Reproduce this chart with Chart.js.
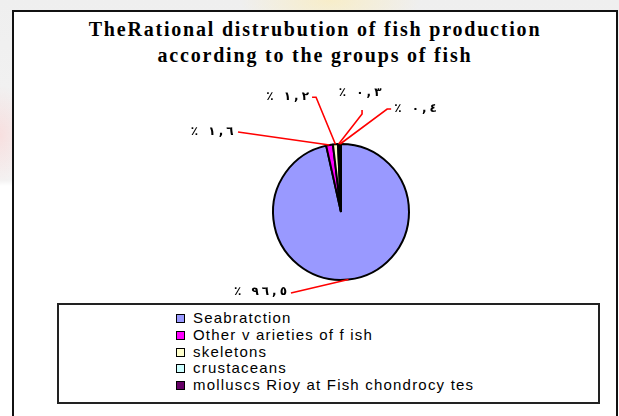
<!DOCTYPE html>
<html>
<head>
<meta charset="utf-8">
<script src="https://cdn.jsdelivr.net/npm/chart.js@4.4.1/dist/chart.umd.min.js"></script>
<style>
  html, body { margin: 0; padding: 0; }
  body {
    width: 619px; height: 416px; overflow: hidden; position: relative;
    background:
      radial-gradient(ellipse 90px 40px at 330px 0px, rgba(255,236,170,0.55), rgba(255,236,170,0) 100%),
      radial-gradient(ellipse 30px 50px at 0px 135px, rgba(255,200,200,0.45), rgba(255,200,200,0) 100%),
      linear-gradient(to bottom, #efefef 0px, #f3f3f3 180px, #ffffff 186px);
  }
  #frame {
    position: absolute; left: 12px; top: 10px; width: 606px; height: 420px;
    box-sizing: border-box; border: 2px solid #111; background: #fff;
  }
  #title {
    position: absolute; left: 12px; width: 606px; top: 16px;
    text-align: center; font-family: "Liberation Serif", "Times New Roman", serif;
    font-weight: bold; font-size: 20px; line-height: 26px; letter-spacing: 1.8px; color: #000;
  }
  #legend {
    position: absolute; left: 57px; top: 303px; width: 543px; height: 101px;
    box-sizing: border-box; border: 2px solid #222; background: #fff;
  }
  #legend .item {
    position: absolute; left: 117px; height: 16px;
    font-family: "Liberation Sans", Arial, sans-serif; font-size: 15px; line-height: 16px; color: #000;
    letter-spacing: 1.2px; white-space: pre;
  }
  #legend .box {
    position: absolute; left: 0px; top: 4px; width: 7px; height: 7px; border: 1px solid #000;
  }
  #legend .txt { position: absolute; left: 17px; top: 0px; }
  canvas { position: absolute; left: 0; top: 0; }
</style>
</head>
<body>
<div id="frame"></div>
<div id="title">TheRational distrubution of fish production<br>according to the groups of fish</div>
<div id="legend"></div>
<canvas id="c" width="619" height="416"></canvas>
<script>
// ---- data ----
const categories = ["Seabratction", "Other v arieties of f ish", "skeletons", "crustaceans", "molluscs Rioy at Fish chondrocy tes"];
const shares = [96.5, 1.6, 1.2, 0.3, 0.4];
const sliceColors = ["#9999FF", "#FF00FF", "#FFFFCC", "#CCFFFF", "#660066"];

// ---- label placement (style only, relative to slice anchor) ----
const leaderStyles = [
  { pts: [[-57.5, 13.4]], text: [-61.5, 12.5], align: "right" },
  { pts: [[-91.5, -13]], text: [-96, -13], align: "right" },
  { pts: [[-19.4, -47], [-23.4, -47]], text: [-26.5, -47], align: "right" },
  { pts: [[23.4, -30], [23.4, -34]], text: [21.5, -51], align: "center" },
  { pts: [[47, -35], [51, -35]], text: [54, -35], align: "left" }
];

function toArabicDigits(v) {
  const d = "٠١٢٣٤٥٦٧٨٩";
  return String(v).replace(/[0-9]/g, c => d[+c]).replace(".", ",");
}

// ---- legend (HTML, built from data) ----
const legendEl = document.getElementById("legend");
categories.forEach((name, i) => {
  const it = document.createElement("div");
  it.className = "item";
  it.style.top = (5 + i * 16.8) + "px";
  const b = document.createElement("div");
  b.className = "box";
  b.style.background = sliceColors[i];
  const t = document.createElement("span");
  t.className = "txt";
  t.textContent = name;
  it.appendChild(b); it.appendChild(t);
  legendEl.appendChild(it);
});

function drawSpaced(ctx, str, x, y, align, sp) {
  const chars = Array.from(str);
  const ws = chars.map(ch => ctx.measureText(ch).width);
  const total = ws.reduce((a, b) => a + b, 0) + sp * (chars.length - 1);
  let cx = align === "right" ? x - total : align === "center" ? x - total / 2 : x;
  ctx.textAlign = "left";
  chars.forEach((ch, k) => { ctx.fillText(ch, cx, y); cx += ws[k] + sp; });
}

const leaderPlugin = {
  id: "leaders",
  afterDatasetsDraw(chart) {
    const ctx = chart.ctx;
    const meta = chart.getDatasetMeta(0);
    meta.data.forEach((arc, i) => {
      const p = arc.getProps(["x", "y", "startAngle", "endAngle", "outerRadius"], true);
      const mid = (p.startAngle + p.endAngle) / 2;
      const ax = p.x + Math.cos(mid) * p.outerRadius;
      const ay = p.y + Math.sin(mid) * p.outerRadius;
      const st = leaderStyles[i];
      ctx.save();
      ctx.strokeStyle = "#FF0000";
      ctx.lineWidth = 1.6;
      ctx.beginPath();
      ctx.moveTo(ax, ay);
      st.pts.forEach(q => ctx.lineTo(ax + q[0], ay + q[1]));
      ctx.stroke();
      ctx.fillStyle = "#000";
      ctx.font = "bold 12px 'DejaVu Sans', sans-serif";
      ctx.textBaseline = "middle";
      drawSpaced(ctx, "٪ " + toArabicDigits(shares[i]), ax + st.text[0], ay + st.text[1], st.align, 3);
      ctx.restore();
    });
  }
};

new Chart(document.getElementById("c"), {
  type: "pie",
  data: {
    labels: categories,
    datasets: [{
      data: shares,
      backgroundColor: sliceColors,
      borderColor: "#000",
      borderWidth: 2
    }]
  },
  options: {
    responsive: false,
    animation: false,
    layout: { padding: { left: 272, top: 143, right: 209, bottom: 135 } },
    plugins: { legend: { display: false }, tooltip: { enabled: false }, title: { display: false } }
  },
  plugins: [leaderPlugin]
});
</script>
</body>
</html>
